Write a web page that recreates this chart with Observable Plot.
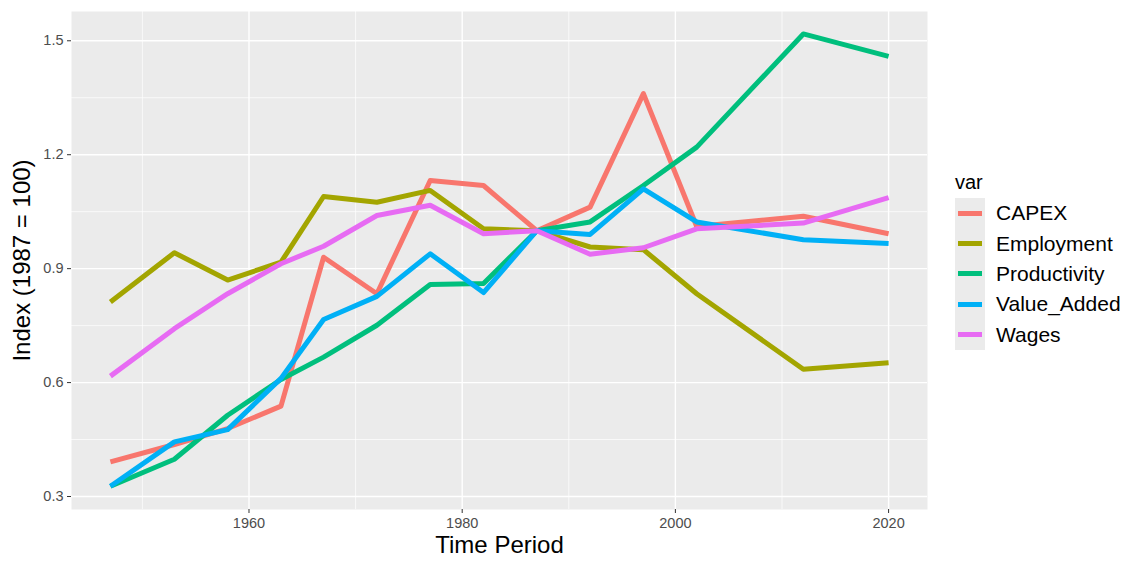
<!DOCTYPE html>
<html>
<head>
<meta charset="utf-8">
<script src="https://cdn.jsdelivr.net/npm/d3@7"></script>
<script src="https://cdn.jsdelivr.net/npm/@observablehq/plot@0.6"></script>
<style>
  html, body { margin: 0; padding: 0; background: #fff; }
  body { width: 1128px; height: 563px; overflow: hidden; font-family: "Liberation Sans", Arial, Helvetica, sans-serif; }
  #wrap { position: relative; width: 1128px; height: 563px; }
  #legend { position: absolute; left: 955px; top: 168px; font-family: "Liberation Sans", Arial, sans-serif; color: #000; }
  #legend .title { font-size: 20px; height: 28px; line-height: 28px; margin-bottom: 2px; }
  #legend .item { display: flex; align-items: center; height: 30.4px; }
  #legend .key { width: 30px; height: 30.4px; background: #ebebeb; position: relative; }
  #legend .key span { position: absolute; left: 3px; right: 3px; top: 12.7px; height: 5px; }
  #legend .lab { font-size: 21px; margin-left: 11px; white-space: nowrap; }
  svg [aria-label="x-axis tick label"], svg [aria-label="y-axis tick label"] { fill: #4d4d4d; }
</style>
</head>
<body>
<div id="wrap"></div>
<script>
const years        = [1947, 1953, 1958, 1963, 1967, 1972, 1977, 1982, 1987, 1992, 1997, 2002, 2012, 2020];
const capex        = [0.391, 0.437, 0.479, 0.538, 0.930, 0.834, 1.132, 1.119, 1.000, 1.062, 1.361, 1.011, 1.038, 0.992];
const employment   = [0.812, 0.942, 0.870, 0.917, 1.090, 1.075, 1.106, 1.005, 1.000, 0.957, 0.950, 0.834, 0.635, 0.652];
const productivity = [0.327, 0.398, 0.514, 0.608, 0.667, 0.751, 0.858, 0.861, 1.000, 1.023, 1.119, 1.220, 1.518, 1.459];
const valueAdded   = [0.327, 0.444, 0.476, 0.611, 0.766, 0.827, 0.939, 0.837, 1.000, 0.990, 1.110, 1.023, 0.976, 0.966];
const wages        = [0.617, 0.742, 0.834, 0.913, 0.959, 1.040, 1.067, 0.992, 1.000, 0.938, 0.955, 1.005, 1.020, 1.087];

const seriesNames  = ["CAPEX", "Employment", "Productivity", "Value_Added", "Wages"];
const seriesValues = [capex, employment, productivity, valueAdded, wages];
const colors       = ["#F8766D", "#A3A500", "#00BF7D", "#00B0F6", "#E76BF3"];

const xTicks = [1960, 1980, 2000, 2020];
const xMinor = [1950, 1970, 1990, 2010];
const yTicks = [0.3, 0.6, 0.9, 1.2, 1.5];
const yMinor = [0.45, 0.75, 1.05, 1.35];

const data = seriesNames.flatMap((name, i) =>
  years.map((yr, j) => ({ year: yr, value: seriesValues[i][j], var: name }))
);

const font = "'Liberation Sans', Arial, Helvetica, sans-serif";

const chart = Plot.plot({
  width: 1128,
  height: 563,
  marginLeft: 71,
  marginRight: 201,
  marginTop: 11,
  marginBottom: 54,
  style: { fontFamily: font, fontSize: "14.5px", background: "#fff", color: "#333" },
  x: { domain: [1943.35, 2023.65], label: null },
  y: { domain: [0.2658, 1.5771], label: null },
  color: { domain: seriesNames, range: colors },
  marks: [
    Plot.frame({ fill: "#ebebeb", stroke: null }),
    Plot.ruleX(xMinor, { stroke: "#fff", strokeWidth: 0.7 }),
    Plot.ruleY(yMinor, { stroke: "#fff", strokeWidth: 0.7 }),
    Plot.ruleX(xTicks, { stroke: "#fff", strokeWidth: 1.4 }),
    Plot.ruleY(yTicks, { stroke: "#fff", strokeWidth: 1.4 }),
    Plot.axisX({ ticks: xTicks, tickSize: 4, tickPadding: 4, tickFormat: d => String(d), label: null, stroke: "#333" }),
    Plot.axisY({ ticks: yTicks, tickSize: 4, tickPadding: 4, tickFormat: d3.format(".1f"), label: null, stroke: "#333" }),
    Plot.lineY(data, { x: "year", y: "value", stroke: "var", z: "var", strokeWidth: 5, strokeLinecap: "butt", strokeLinejoin: "round" }),
    Plot.text(["Time Period"], { frameAnchor: "bottom", text: d => d, dy: 26, lineAnchor: "top", textAnchor: "middle", fontSize: 24, fill: "#000" }),
    Plot.text(["Index (1987 = 100)"], { frameAnchor: "left", text: d => d, dx: -49, rotate: -90, lineAnchor: "middle", textAnchor: "middle", fontSize: 24, fill: "#000" })
  ]
});

const wrap = document.getElementById("wrap");
wrap.appendChild(chart);

const legend = document.createElement("div");
legend.id = "legend";
const title = document.createElement("div");
title.className = "title";
title.textContent = "var";
legend.appendChild(title);
seriesNames.forEach((name, i) => {
  const item = document.createElement("div");
  item.className = "item";
  const key = document.createElement("div");
  key.className = "key";
  const seg = document.createElement("span");
  seg.style.background = colors[i];
  key.appendChild(seg);
  const lab = document.createElement("div");
  lab.className = "lab";
  lab.textContent = name;
  item.appendChild(key);
  item.appendChild(lab);
  legend.appendChild(item);
});
wrap.appendChild(legend);
</script>
</body>
</html>
